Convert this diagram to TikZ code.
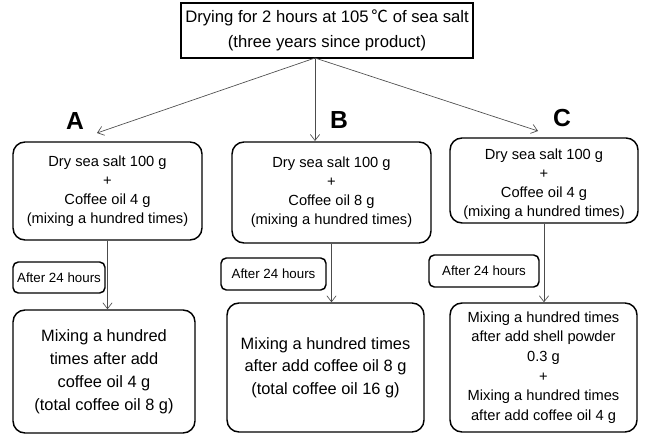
\documentclass[tikz,border=0pt]{standalone}
\usepackage{fontspec}
\setmainfont{Liberation Sans}
\newfontfamily\cjkfont{Noto Sans CJK SC}
\usetikzlibrary{arrows.meta}

\begin{document}
\begin{tikzpicture}[x=0.75pt,y=-0.75pt,
    stepbox/.style={draw,rounded corners=9pt,line width=1.1pt,align=center,inner sep=0pt},
    waitbox/.style={draw,rounded corners=4pt,line width=1.1pt,inner sep=0pt,
        font=\fontsize{10}{12}\selectfont},
    flow/.style={draw=black!70,line width=0.5pt,-{Straight Barb[length=4.5pt,width=7pt]}},
    tag/.style={font=\fontsize{18.5}{20}\selectfont\bfseries}]
\useasboundingbox (0,0) rectangle (645,434);
% drying of the salt
\node[draw,line width=1.3pt,minimum width=292*.75pt,minimum height=55*.75pt,
      inner sep=0pt,align=center,font=\fontsize{12.5}{19}\selectfont]
      (dry) at (327,30.5) {\rule{0pt}{8pt}Drying for 2 hours at 105\,{\cjkfont ℃} of sea salt\\(three years since product)};
\coordinate (fork) at (315,58);
\coordinate (tipA) at (97,133);
\coordinate (tipB) at (315,141);
\coordinate (tipC) at (538,131);
\node[tag] (labA) at (75,121) {A};
\node[tag] (labB) at (339,120) {B};
\node[tag] (labC) at (562,118) {C};
% first mixing
\node[stepbox,minimum width=189*.75pt,minimum height=98*.75pt,font=\fontsize{11}{14.25}\selectfont]
      (mixA) at (107.5,191) {Dry sea salt 100 g\\+\\Coffee oil 4 g\\(mixing a hundred times)};
\node[stepbox,minimum width=199*.75pt,minimum height=101*.75pt,font=\fontsize{11}{14.25}\selectfont]
      (mixB) at (331.5,192.5) {Dry sea salt 100 g\\+\\Coffee oil 8 g\\(mixing a hundred times)};
\node[stepbox,minimum width=188*.75pt,minimum height=85*.75pt,font=\fontsize{11}{14.25}\selectfont]
      (mixC) at (544,180.5) {\rule{0pt}{14pt}Dry sea salt 100 g\\+\\Coffee oil 4 g\\(mixing a hundred times)};
% waiting
\node[waitbox,minimum width=92*.75pt,minimum height=31*.75pt] (waitA) at (59,277.5) {After 24 hours};
\node[waitbox,minimum width=105*.75pt,minimum height=32*.75pt] (waitB) at (273.5,274) {After 24 hours};
\node[waitbox,minimum width=110*.75pt,minimum height=32*.75pt] (waitC) at (484,271) {After 24 hours};
% second mixing
\node[stepbox,minimum width=182*.75pt,minimum height=123*.75pt,font=\fontsize{12.3}{17.2}\selectfont]
      (addA) at (104,371.5) {Mixing a hundred\\times after add\\coffee oil 4 g\\(total coffee oil 8 g)};
\node[stepbox,minimum width=197*.75pt,minimum height=129*.75pt,font=\fontsize{12.3}{17}\selectfont]
      (addB) at (325.5,367.5) {Mixing a hundred times\\after add coffee oil 8 g\\(total coffee oil 16 g)};
\node[stepbox,minimum width=187*.75pt,minimum height=129*.75pt,font=\fontsize{11}{14.7}\selectfont]
      (addC) at (543.5,367.5) {Mixing a hundred times\\after add shell powder\\0.3 g\\+\\Mixing a hundred times\\after add coffee oil 4 g};
% arrows
\draw[flow] (fork) -- (tipA);
\draw[flow] (fork) -- (tipB);
\draw[flow] (fork) -- (tipC);
\draw[flow] (mixA.south) -- (mixA.south |- addA.north);
\draw[flow] (mixB.south) -- (mixB.south |- addB.north);
\draw[flow] (mixC.south) -- (mixC.south |- addC.north);
\end{tikzpicture}
\end{document}
